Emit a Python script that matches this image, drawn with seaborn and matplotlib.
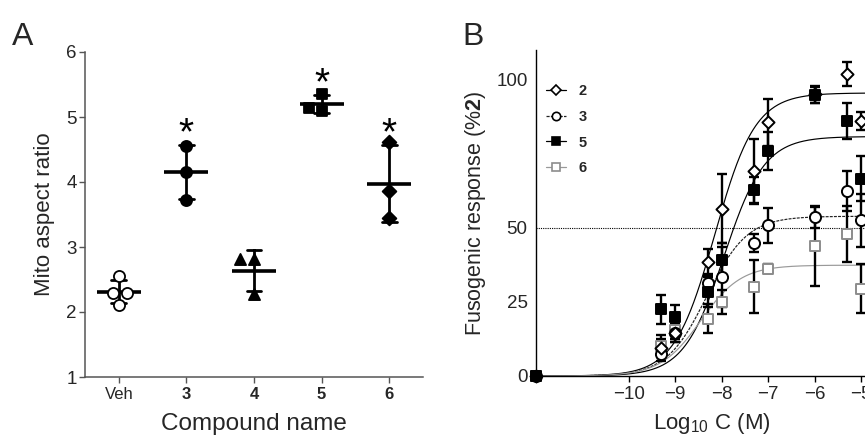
import matplotlib
matplotlib.use("Agg")
import matplotlib.pyplot as plt
import numpy as np
import pandas as pd
import seaborn as sns
from matplotlib.lines import Line2D

# ---- panel A: mito aspect ratio per compound
compounds = ["Veh", "3", "4", "5", "6"]
veh_ratio = [2.55, 2.30, 2.29, 2.11]
c3_ratio = [4.56, 4.15, 3.73]
c4_ratio = [2.82, 2.82, 2.27]
c5_ratio = [5.35, 5.09, 5.14]
c6_ratio = [4.61, 3.86, 3.44]
significant = ["3", "5", "6"]

# ---- panel B: fusogenic response (% of 2) vs log10 concentration
# -12 stands for the zero-concentration point drawn on the y axis
log_conc = [-12, -9.3, -9, -8.3, -8, -7.3, -7, -6, -5.3, -5]
resp_2 = [0, 9.5, 14.5, 38.5, 56.5, 69.1, 85.6, 95.0, 101.9, 86.0]
err_2 = [0, 3.0, 3.0, 4.5, 11.7, 11.0, 8.0, 3.0, 4.0, 3.0]
resp_3 = [0, 7.4, 14.6, 31.4, 33.4, 44.9, 50.8, 53.6, 62.4, 52.5]
err_3 = [0, 2.5, 3.0, 3.0, 10.0, 3.0, 6.0, 3.5, 6.8, 9.0]
resp_5 = [0, 22.5, 20.0, 28.4, 39.3, 62.8, 75.9, 94.8, 86.0, 66.5]
err_5 = [0, 4.8, 4.0, 5.0, 5.5, 4.5, 6.5, 2.8, 6.0, 7.6]
resp_6 = [0, 10.2, 15.5, 19.4, 25.0, 30.1, 36.2, 43.8, 48.0, 29.5]
err_6 = [0, 3.6, 3.0, 4.8, 4.0, 9.0, 1.5, 13.5, 9.5, 8.4]

# sigmoid fits (top, logEC50, hill) for 2, 3, 5, 6
fit_names = ["2", "3", "5", "6"]
fit_top = [95.5, 53.9, 80.8, 37.4]
fit_logec50 = [-8.15, -8.32, -7.95, -8.45]
fit_hill = [1.0, 1.0, 1.0, 1.0]

sns.set_theme(style="ticks")
plt.rcParams["font.family"] = ["Liberation Sans", "DejaVu Sans"]
plt.rcParams["mathtext.fontset"] = "custom"
plt.rcParams["mathtext.rm"] = "Liberation Sans"
plt.rcParams["mathtext.it"] = "Liberation Sans:italic"
plt.rcParams["mathtext.bf"] = "Liberation Sans:bold"

fig = plt.figure(figsize=(8.65, 4.41), dpi=100)
axA = fig.add_axes([85 / 865, 64 / 441, 338 / 865, 325 / 441])
axB = fig.add_axes([536 / 865, 65 / 441, 329 / 865, 326 / 441])

# ---------------- panel A
ratios = [veh_ratio, c3_ratio, c4_ratio, c5_ratio, c6_ratio]
dfA = pd.DataFrame({
    "compound": [c for c, r in zip(compounds, ratios) for _ in r],
    "ratio": [v for r in ratios for v in r],
})
a_markers = ["o", "o", "^", "s", "D"]
a_faces = ["white", "black", "black", "black", "black"]
a_sizes = [8, 8, 8, 7.5, 7]
for name, mk, fc, sz in zip(compounds, a_markers, a_faces, a_sizes):
    sns.swarmplot(data=dfA[dfA["compound"] == name], x="compound", y="ratio",
                  order=compounds, marker=mk, size=sz, color=fc,
                  edgecolor="black", linewidth=1.3, ax=axA)

sns.pointplot(data=dfA, x="compound", y="ratio", order=compounds,
              estimator="mean", errorbar="sd", color="black", markers="_",
              linestyles="none", markersize=31, markeredgewidth=2.6,
              capsize=0.22, err_kws={"linewidth": 2.0}, ax=axA)

stats = dfA.groupby("compound")["ratio"].agg(["mean", "std"])
for name in significant:
    top = stats.loc[name, "mean"] + stats.loc[name, "std"]
    axA.text(compounds.index(name), top + 0.17, "*", ha="center", va="center",
             fontsize=28, color="black")

axA.set_xlim(-0.5, 4.5)
axA.set_ylim(1, 6)
axA.set_yticks([1, 2, 3, 4, 5, 6])
axA.set_xticks(range(len(compounds)))
axA.set_xticklabels(compounds)
for i, lab in enumerate(axA.get_xticklabels()):
    lab.set_fontweight("normal" if i == 0 else "bold")
axA.tick_params(axis="x", labelsize=12, length=4, width=1, color="#555555", pad=3)
axA.tick_params(axis="y", labelsize=13.5, length=4, width=1, color="#555555", pad=2)
for s in ["top", "right"]:
    axA.spines[s].set_visible(False)
for s in ["left", "bottom"]:
    axA.spines[s].set_color("#555555")
    axA.spines[s].set_linewidth(1.1)
axA.set_xlabel("Compound name", fontsize=17.5, labelpad=8)
axA.set_ylabel("Mito aspect ratio", fontsize=16, labelpad=8)
fig.text(12 / 865, 1 - 45 / 441, "A", fontsize=23)

# ---------------- panel B
curve_x = np.linspace(-12, -4.9, 400)
curve_styles = {"2": ("black", "-"), "3": ("#222222", (0, (2.5, 1))),
                "5": ("black", "-"), "6": ("#999999", "-")}
for name, top, ec50, hill in zip(fit_names, fit_top, fit_logec50, fit_hill):
    col, ls = curve_styles[name]
    curve_y = top / (1 + 10 ** ((ec50 - curve_x) * hill))
    sns.lineplot(x=curve_x, y=curve_y, color=col, linestyle=ls, linewidth=0.85,
                 ax=axB, zorder=2)

axB.axhline(50, color="black", linestyle=(0, (1, 1)), linewidth=0.8, zorder=1)

responses = {"2": (resp_2, err_2), "3": (resp_3, err_3),
             "5": (resp_5, err_5), "6": (resp_6, err_6)}
b_marker = {"2": "D", "3": "o", "5": "s", "6": "s"}
b_face = {"2": "white", "3": "white", "5": "black", "6": "white"}
b_edge = {"2": "black", "3": "black", "5": "black", "6": "#8c8c8c"}
b_size = {"2": 38, "3": 64, "5": 52, "6": 58}
for name in ["6", "3", "2", "5"]:
    r, e = responses[name]
    axB.errorbar(log_conc, r, yerr=e, fmt="none", ecolor="black",
                 elinewidth=1.7, capsize=3.8, capthick=1.7, zorder=3, clip_on=False)
for name in ["6", "3", "2", "5"]:
    r, e = responses[name]
    sns.scatterplot(x=log_conc, y=r, marker=b_marker[name], s=b_size[name],
                    color=b_face[name], edgecolor=b_edge[name], linewidth=1.4,
                    zorder=4, clip_on=False, ax=axB)

axB.set_xlim(-12, -4.914)
axB.set_ylim(0, 110)
axB.set_xticks([-10, -9, -8, -7, -6, -5])
axB.set_yticks([0, 25, 50, 100])
axB.tick_params(axis="x", labelsize=13.5, length=4, width=1, color="black", pad=3)
axB.tick_params(axis="y", labelsize=13.5, length=0, pad=6)
for s in ["top", "right"]:
    axB.spines[s].set_visible(False)
for s in ["left", "bottom"]:
    axB.spines[s].set_color("black")
    axB.spines[s].set_linewidth(1.0)
axB.set_xlabel("Log$_{10}$ C (M)", fontsize=16, labelpad=6, x=(712 - 536) / 329)
axB.set_ylabel("Fusogenic response (%$\\mathbf{2}$)", fontsize=15.5, labelpad=6)
fig.text(462 / 865, 1 - 45 / 441, "B", fontsize=23)

handles = []
for name in fit_names:
    col, ls = curve_styles[name]
    handles.append(Line2D([], [], color=col, linestyle=ls, linewidth=0.9,
                          marker=b_marker[name], markersize=6 if name != "2" else 5.5,
                          markerfacecolor=b_face[name], markeredgecolor=b_edge[name],
                          markeredgewidth=1.2))
leg = axB.legend(handles, fit_names, loc="upper left",
                 bbox_to_anchor=(0.03, 0.895), frameon=False, fontsize=10.5,
                 handlelength=1.4, handletextpad=0.85, labelspacing=0.8,
                 borderpad=0, borderaxespad=0)
for t in leg.get_texts():
    t.set_fontweight("bold")

fig.savefig("out.png", dpi=100)
